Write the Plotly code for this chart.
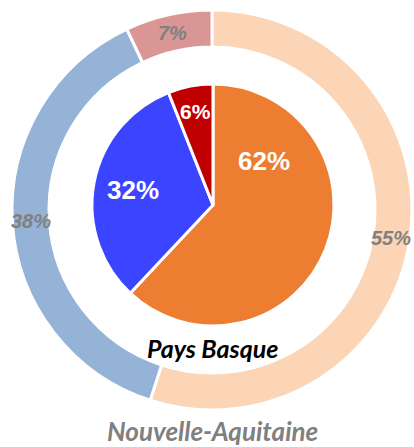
import math
import plotly.graph_objects as go

# Data
categories = ["Cat A", "Cat B", "Cat C"]
outer_values = [55, 38, 7]          # Nouvelle-Aquitaine
inner_values = [62, 32, 6]          # Pays Basque
outer_name = "Nouvelle-Aquitaine"
inner_name = "Pays Basque"

outer_colors = ["#FBD5B5", "#95B3D7", "#DA9694"]
inner_colors = ["#ED7D31", "#3B44FF", "#C00000"]

W, H = 414, 447

# geometry (pixels)
OC, OR, OHOLE = (212, 210), 200, 0.815
IC, IR = (213, 205), 121

def dom(cx, cy, r):
    return dict(x=[(cx - r) / W, (cx + r) / W], y=[(H - cy - r) / H, (H - cy + r) / H])

fig = go.Figure()
fig.add_trace(go.Pie(
    labels=categories, values=outer_values, sort=False, direction="clockwise",
    rotation=0, hole=OHOLE, domain=dom(*OC, OR),
    marker=dict(colors=outer_colors, line=dict(color="white", width=3)),
    textinfo="none", hoverinfo="label+value", showlegend=False,
))
fig.add_trace(go.Pie(
    labels=categories, values=inner_values, sort=False, direction="clockwise",
    rotation=0, domain=dom(*IC, IR),
    marker=dict(colors=inner_colors, line=dict(color="white", width=3)),
    textinfo="none", hoverinfo="label+value", showlegend=False,
))

def mid_angles(vals):
    tot = sum(vals)
    out, acc = [], 0
    for v in vals:
        out.append((acc + v / 2) / tot * 360)
        acc += v
    return out

def add_text(px, py, text, font):
    fig.add_annotation(x=px / W, y=(H - py) / H, xref="paper", yref="paper",
                       text=text, showarrow=False, font=font,
                       xanchor="center", yanchor="middle")

def add_label(center, radius, ang_deg, text, font):
    cx, cy = center
    a = math.radians(ang_deg)
    add_text(cx + radius * math.sin(a), cy - radius * math.cos(a), text, font)

# outer labels: centre of ring, at slice mid-angle
for v, ang in zip(outer_values, mid_angles(outer_values)):
    add_label(OC, OR * (1 + OHOLE) / 2, ang, f"<b><i>{v}%</i></b>",
              dict(family="Arial", size=20, color="#808080"))

# inner labels (best-fit placement: angle override, radius fraction)
inner_place = [(49, 0.56), (None, 0.67), (None, 0.79)]
for v, ang, (ovr, rf) in zip(inner_values, mid_angles(inner_values), inner_place):
    add_label(IC, IR * rf, ovr if ovr is not None else ang, f"<b>{v}%</b>",
              dict(family="Arial", size=26 if v > 10 else 21, color="white"))

add_text(212, 348, "<b><i>" + inner_name + "</i></b>",
         dict(family="Lato", size=25, color="black"))
add_text(212, 431, "<b><i>" + outer_name + "</i></b>",
         dict(family="Lato", size=26, color="#808080"))

fig.update_layout(width=W, height=H, margin=dict(l=0, r=0, t=0, b=0),
                  paper_bgcolor="white", plot_bgcolor="white")
fig.write_html("out.html", config={"displayModeBar": False},
               post_script="document.body.style.margin='0';")
